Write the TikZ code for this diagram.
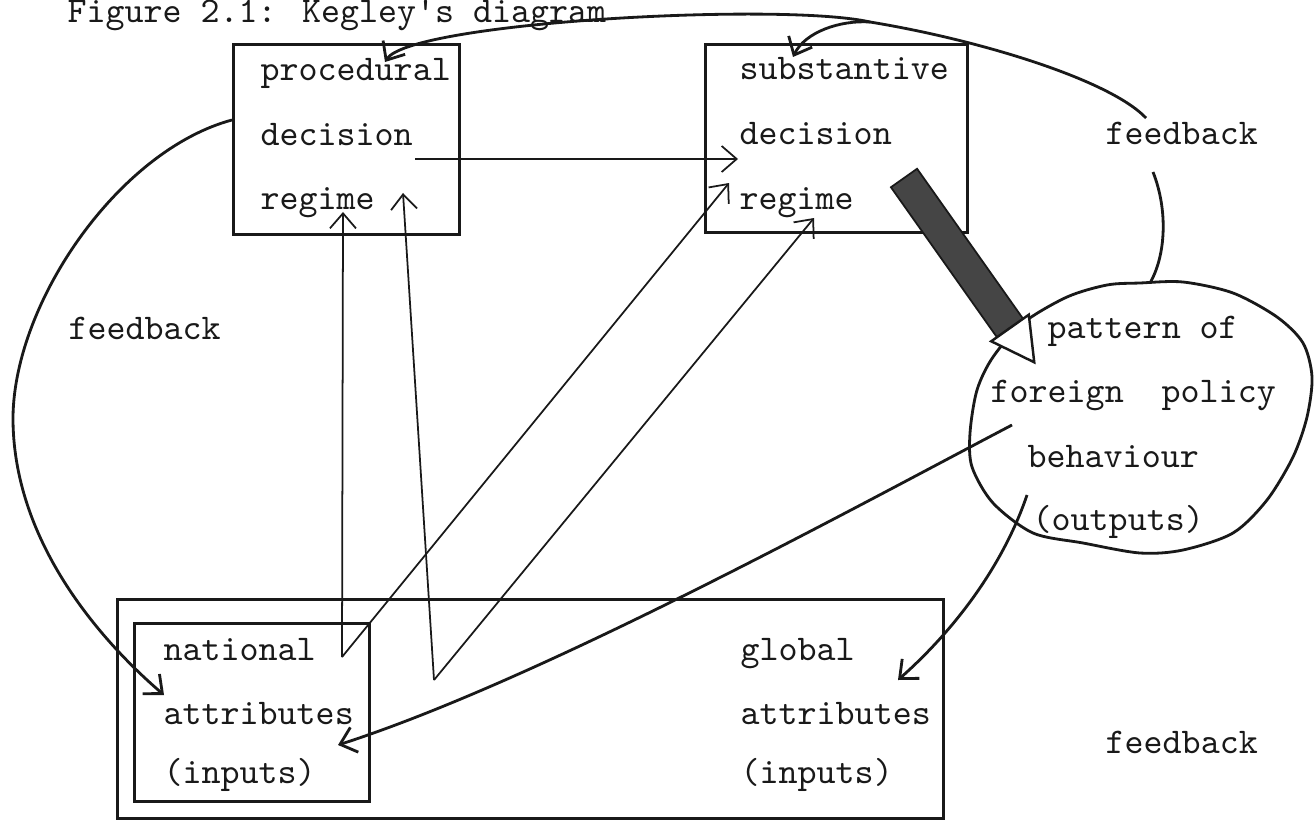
\documentclass[tikz,border=0pt]{standalone}
\usepackage{tikz}
\usetikzlibrary{arrows.meta,calc,positioning}

\definecolor{ink}{rgb}{0.1, 0.1, 0.1}
\definecolor{bargrey}{rgb}{0.27, 0.27, 0.27}

\tikzset{
  txt/.style={
    anchor = base west,
    inner sep = 0pt,
    text = ink,
    font = \ttfamily\fontsize{10.3}{12}\selectfont
  },
  frame/.style={
    shape = rectangle,
    anchor = north west,
    draw = ink,
    line width = 0.8pt,
    inner sep = 0pt
  },
  link/.style={
    draw = ink,
    line width = 0.5pt,
    -{Straight Barb[length=1.5mm,width=2.6mm]}
  },
  fb/.style={
    draw = ink,
    line width = 0.8pt
  },
}

\begin{document}
\begin{tikzpicture}
    \useasboundingbox (0,0) rectangle (13.14,-8.20);

    \node[txt] (title) at (0.67,-0.23) {Figure 2.1: Kegley's diagram};

    % boxes
    \node[frame, minimum width=2.26cm, minimum height=1.90cm] (proc) at (2.32,-0.43) {};
    \node[frame, minimum width=2.62cm, minimum height=1.88cm] (subst) at (7.04,-0.43) {};
    \node[frame, minimum width=8.26cm, minimum height=2.19cm] (attr) at (1.16,-5.98) {};
    \node[frame, minimum width=2.35cm, minimum height=1.78cm] (natl) at (1.33,-6.22) {};

    \draw[ink, line width=0.8pt] plot[smooth cycle] coordinates {
        (11.40,-2.83) (11.83,-2.82) (12.33,-2.93) (12.77,-3.17) (13.03,-3.43)
        (13.12,-3.77) (13.07,-4.17) (12.93,-4.57) (12.67,-5.00) (12.33,-5.33)
        (11.83,-5.50) (11.40,-5.53) (10.83,-5.43) (10.33,-5.33) (9.93,-5.03)
        (9.72,-4.67) (9.70,-4.33) (9.77,-3.90) (9.93,-3.57) (10.23,-3.23)
        (10.67,-2.97) (11.07,-2.85)};

    % texts
    \node[txt] (procA) at (2.60,-0.81) {procedural};
    \node[txt] (procB) at (2.60,-1.46) {decision};
    \node[txt] (procC) at (2.60,-2.10) {regime};

    \node[txt] (subA) at (7.39,-0.80) {substantive};
    \node[txt] (subB) at (7.39,-1.45) {decision};
    \node[txt] (subC) at (7.39,-2.09) {regime};

    \node[txt] (fbTR) at (11.05,-1.45) {feedback};
    \node[txt] (fbL) at (0.68,-3.39) {feedback};
    \node[txt] (fbBR) at (11.05,-7.53) {feedback};

    \node[txt] (patA) at (10.47,-3.38) {pattern of};
    \node[txt] (patB) at (9.90,-4.02) {foreign\ \ policy};
    \node[txt] (patC) at (10.27,-4.67) {behaviour};
    \node[txt] (patD) at (10.32,-5.30) {(outputs)};

    \node[txt] (natA) at (1.63,-6.60) {national};
    \node[txt] (natB) at (1.63,-7.24) {attributes};
    \node[txt] (natC) at (1.63,-7.83) {(inputs)};

    \node[txt] (globA) at (7.40,-6.60) {global};
    \node[txt] (globB) at (7.40,-7.24) {attributes};
    \node[txt] (globC) at (7.40,-7.83) {(inputs)};

    % connector ends
    \coordinate (decOut) at (4.15,-1.59);
    \coordinate (decIn) at (7.38,-1.59);
    \coordinate (natV) at (3.42,-6.57);
    \coordinate (procIn1) at (3.43,-2.12);
    \coordinate (subIn1) at (7.29,-1.83);
    \coordinate (zigV) at (4.34,-6.80);
    \coordinate (procIn2) at (4.03,-1.93);
    \coordinate (subIn2) at (8.14,-2.18);

    \coordinate (barS) at (9.04,-1.78);
    \coordinate (barE) at (10.10,-3.28);

    \coordinate (fbTop) at (11.46,-1.18);
    \coordinate (fbSplit) at (8.70,-0.22);
    \coordinate (procTop) at (3.85,-0.62);
    \coordinate (subTop) at (7.93,-0.57);
    \coordinate (fbOut) at (11.53,-1.72);
    \coordinate (blobTop) at (11.50,-2.83);
    \coordinate (procL) at (2.32,-1.20);
    \coordinate (natIn) at (1.64,-6.95);
    \coordinate (blobL) at (10.12,-4.25);
    \coordinate (natIn2) at (3.38,-7.45);
    \coordinate (blobB) at (10.27,-4.95);
    \coordinate (globIn) at (8.98,-6.80);

    % straight links
    \draw[link] (decOut) -- (decIn);
    \draw[link] (natV) -- (procIn1);
    \draw[link] (natV) -- (subIn1);
    \draw[link] (zigV) -- (procIn2);
    \draw[link] (zigV) -- (subIn2);

    % thick bar into the outputs
    \fill[bargrey, draw=ink, line width=0.5pt]
        ($(barS)!0.16cm!90:(barE)$) -- ($(barS)!0.16cm!-90:(barE)$)
        -- ($(barE)!0.16cm!90:(barS)$) -- ($(barE)!0.16cm!-90:(barS)$) -- cycle;
    \filldraw[fill=white, draw=ink, line width=0.7pt]
        ($(barE)!0.23cm!90:(barS)$) -- ($(barE)!0.23cm!-90:(barS)$)
        -- ($(barE)!-0.42cm!(barS)$) -- cycle;

    % feedback loops
    \draw[fb] (fbTop) .. controls (11.10,-0.80) and (9.80,-0.40) .. (fbSplit);
    \draw[fb, link, line width=0.8pt] (fbSplit) .. controls (7.82,-0.02) and (4.10,-0.22) .. (procTop);
    \draw[fb, link, line width=0.8pt] (fbSplit) .. controls (8.40,-0.20) and (8.05,-0.32) .. (subTop);
    \draw[fb] (fbOut) .. controls (11.68,-2.10) and (11.66,-2.55) .. (blobTop);

    \draw[fb, link, line width=0.8pt] (procL) .. controls (1.20,-1.50) and (0.15,-3.00) .. (0.13,-4.16)
        .. controls (0.12,-5.40) and (1.00,-6.40) .. (natIn);
    \draw[fb, link, line width=0.8pt] (blobL) .. controls (8.50,-5.10) and (5.40,-6.80) .. (natIn2);
    \draw[fb, link, line width=0.8pt] (blobB) .. controls (10.05,-5.60) and (9.60,-6.25) .. (globIn);
\end{tikzpicture}
\end{document}
